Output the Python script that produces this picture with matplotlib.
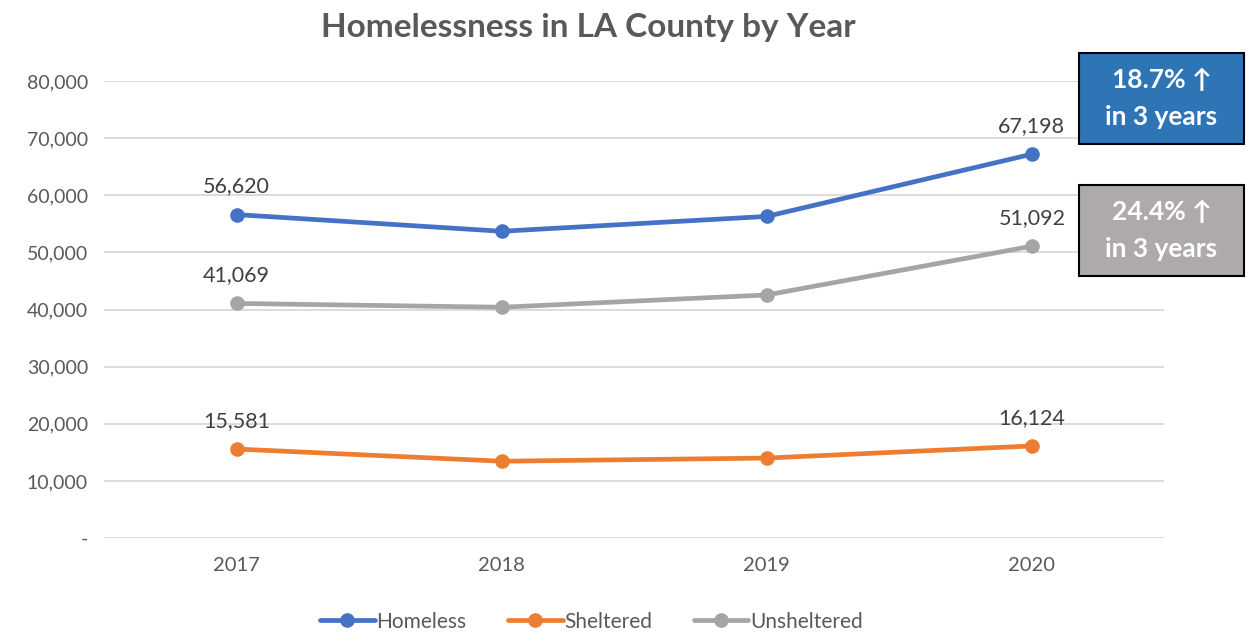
import numpy as np
import matplotlib.pyplot as plt
from matplotlib.patches import Rectangle
from matplotlib.ticker import FuncFormatter

plt.rcParams['font.family'] = ['Lato', 'DejaVu Sans']

# Point-in-time counts
years = ['2017', '2018', '2019', '2020']
homeless = [56620, 53700, 56300, 67198]
sheltered = [15581, 13450, 14000, 16124]
unsheltered = [41069, 40400, 42550, 51092]

series = [
    ('Homeless', homeless, '#4472C4'),
    ('Sheltered', sheltered, '#ED7D31'),
    ('Unsheltered', unsheltered, '#A5A5A5'),
]

fig = plt.figure(figsize=(12.46, 6.33), dpi=100)
ax = fig.add_axes([0.0835, 0.150, 0.851, 0.722])

x = np.arange(len(years))
for name, vals, col in series:
    ax.plot(x, vals, color=col, lw=3.4, marker='o', ms=9.5, label=name,
            solid_capstyle='round', zorder=3)
    # label first and last points only
    for i in (0, len(vals) - 1):
        ax.annotate(f'{vals[i]:,}', (x[i], vals[i]), xytext=(0, 13),
                    textcoords='offset points', ha='center', va='bottom',
                    fontsize=15.5, color='#404040')

ax.set_xlim(-0.5, len(years) - 0.5)
ax.set_ylim(0, 80000)
ax.set_yticks(range(0, 80001, 10000))
ax.yaxis.set_major_formatter(FuncFormatter(lambda v, p: '-' if v == 0 else f'{int(v):,}'))
ax.set_xticks(x)
ax.set_xticklabels(years)
ax.grid(axis='y', color='#D9D9D9', lw=1.3)
ax.set_axisbelow(True)
for s in ax.spines.values():
    s.set_visible(False)
ax.tick_params(axis='x', length=0, labelsize=14.5, colors='#595959', pad=14)
ax.tick_params(axis='y', length=0, labelsize=14, colors='#595959', pad=11.5)

fig.text(0.472, 0.957, 'Homelessness in LA County by Year', ha='center', va='center',
         fontsize=24, fontweight='bold', color='#595959')

# callout boxes
callouts = [('18.7% \u2191\nin 3 years', '#2E75B6', 0.7725),
            ('24.4% \u2191\nin 3 years', '#AEAAAA', 0.564)]
for txt, fc, y0 in callouts:
    fig.patches.append(Rectangle((0.866, y0), 0.1324, 0.1438, transform=fig.transFigure,
                                 fc=fc, ec='black', lw=1.5))
    fig.text(0.866 + 0.0662, y0 + 0.0719, txt, ha='center', va='center',
             fontsize=19, fontweight='bold', color='white', linespacing=1.65)

fig.legend(loc='center', bbox_to_anchor=(0.475, 0.018), ncol=3, frameon=False,
           fontsize=15, labelcolor='#595959', handlelength=2.6, handletextpad=0.1,
           columnspacing=2.0)

fig.savefig('out.png', dpi=100)
